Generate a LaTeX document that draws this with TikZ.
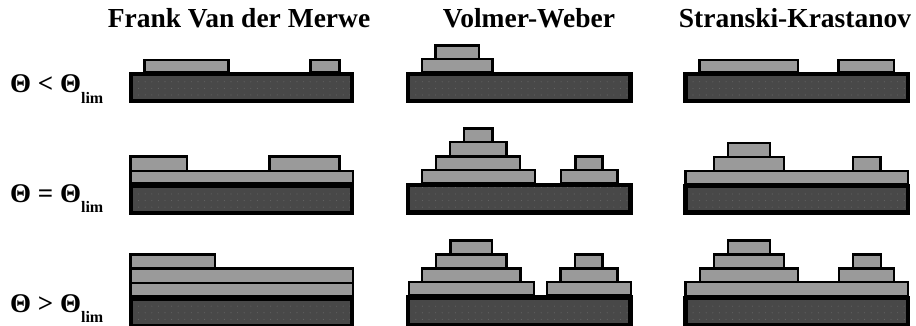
\documentclass[tikz,border=0pt]{standalone}
\usepackage{fontspec}
\setmainfont{Liberation Serif}
\usetikzlibrary{patterns.meta}
\definecolor{subfill}{HTML}{484848}
\definecolor{subdot}{HTML}{666666}
\definecolor{islfill}{HTML}{9A9A9A}
\tikzdeclarepattern{
  name=subdots,
  type=uncolored,
  bounding box={(-1pt,-1pt) and (1pt,1pt)},
  tile size={(6.6pt,6.6pt)},
  code={\pgfpathcircle{\pgfpointorigin}{0.55pt}\pgfusepath{fill}}
}
\tikzset{
  substrate/.style={draw=black, line width=4.3pt, preaction={fill=subfill}, pattern={subdots}, pattern color=subdot},
  isl/.style={draw=black, line width=2.4pt, fill=islfill, line join=miter},
  title/.style={font=\fontsize{27.5}{30}\selectfont\bfseries, anchor=base, inner sep=0pt},
  cond/.style={font=\fontsize{27}{30}\selectfont\bfseries, anchor=base west, inner sep=0pt}
}
\newcommand\mysubst[4]{\draw[substrate] (#1+2.15,#2+2.15) rectangle (#3-2.15,#4-2.15);}
\newcommand\mylay[4]{\draw[isl] (#1,#2) rectangle (#3,#4);}
\newcommand\mylimsub{\raisebox{-10.5pt}{\fontsize{16}{18}\selectfont lim}}
\begin{document}
\begin{tikzpicture}[x=1pt,y=-1pt]
\useasboundingbox (0,0) rectangle (916,326);
% titles
\node[title] (t1) at (239,28) {Frank Van der Merwe};
\node[title] (t2) at (529,28) {Volmer-Weber};
\node[title] (t3) at (795,28) {Stranski-Krastanov};
% conditions
\node[cond] (c1) at (10,93) {Θ < Θ\mylimsub};
\node[cond] (c2) at (10,202) {Θ = Θ\mylimsub};
\node[cond] (c3) at (10,312) {Θ > Θ\mylimsub};
% ---------- Row 1 ----------
\mysubst{129}{71.7}{354}{103.3}
\mylay{144.5}{60}{228.5}{72}
\mylay{310.5}{60}{339.5}{72}
\mysubst{406}{71.7}{632.7}{103.3}
\mylay{422}{59}{492.5}{72}
\mylay{435.5}{45.5}{479}{59}
\mysubst{683.3}{71.7}{910}{103.3}
\mylay{699.5}{60}{798}{72}
\mylay{838.5}{60}{894}{72}
% ---------- Row 2 ----------
\mysubst{129}{183.3}{354}{214.8}
\mylay{130.5}{171}{353}{183.3}
\mylay{130.5}{156.5}{187}{171}
\mylay{269.5}{156.5}{339.5}{171}
\mysubst{406}{183}{632.7}{214.5}
\mylay{422}{170.3}{534.7}{183}
\mylay{436}{156.7}{519.7}{170.3}
\mylay{449.7}{142.3}{506.3}{156.7}
\mylay{463.7}{128.7}{492.3}{142.3}
\mylay{561}{170.3}{617.3}{183}
\mylay{575.3}{156.7}{602.3}{170.3}
\mysubst{683.3}{184}{910}{214.5}
\mylay{685.5}{171}{908}{184}
\mylay{713.7}{157}{783.7}{171}
\mylay{727.7}{143}{769.7}{157}
\mylay{852.7}{157}{880.3}{171}
% ---------- Row 3 ----------
\mysubst{129}{296.5}{354}{328}
\mylay{130.5}{282.7}{353}{296.5}
\mylay{130.5}{268.5}{353}{282.7}
\mylay{130.5}{254.3}{214.7}{268.5}
\mysubst{406}{295.3}{632.7}{327}
\mylay{408.7}{281.8}{534}{295.3}
\mylay{422}{268.5}{520.3}{281.8}
\mylay{436}{254.3}{506.3}{268.5}
\mylay{450.3}{240.3}{492}{254.3}
\mylay{547}{281.8}{630.7}{295.3}
\mylay{560.3}{268.5}{617.3}{281.8}
\mylay{574.7}{254.3}{602.3}{268.5}
\mysubst{683.3}{296}{910}{327.5}
\mylay{685.5}{282}{908}{296}
\mylay{699.7}{268.5}{798}{282}
\mylay{713.7}{254.3}{783.7}{268.5}
\mylay{727.7}{240.3}{769.7}{254.3}
\mylay{838.7}{268.5}{894}{282}
\mylay{852.7}{254.3}{880.7}{268.5}
\end{tikzpicture}
\end{document}
